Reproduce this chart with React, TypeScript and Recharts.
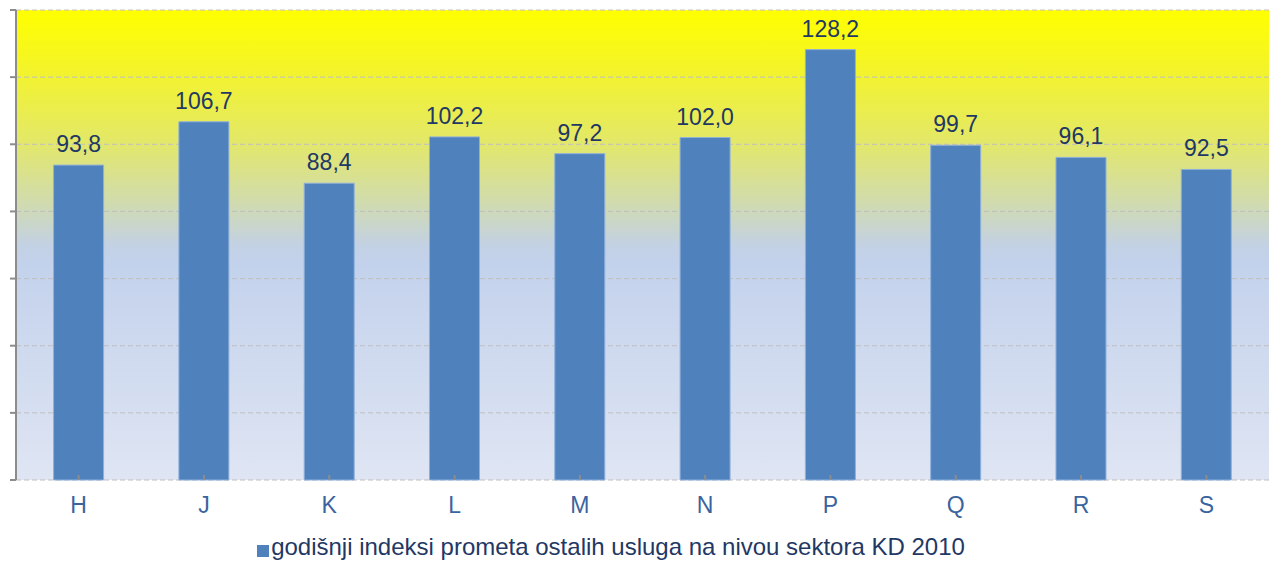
import React from "react";
import {
  BarChart,
  Bar,
  XAxis,
  YAxis,
  CartesianGrid,
  Legend,
  LabelList,
} from "recharts";

// sektori KD 2010
const categories = ["H", "J", "K", "L", "M", "N", "P", "Q", "R", "S"];
const indexValues = [93.8, 106.7, 88.4, 102.2, 97.2, 102.0, 128.2, 99.7, 96.1, 92.5];
const yTicks = [0, 20, 40, 60, 80, 100, 120, 140];
const boundaryTicks = [0, 1, 2, 3, 4, 5, 6, 7, 8, 9, 10];
const seriesName = "godišnji indeksi prometa ostalih usluga na nivou sektora KD 2010";

const data = categories.map((c, i) => ({ sector: c, value: indexValues[i] }));

const fmt = (v: any) => Number(v).toFixed(1).replace(".", ",");

export default function App() {
  return (
    <div style={{ position: "absolute", left: 0, top: 0, fontFamily: "'Liberation Sans', Arial, sans-serif" }}>
      <BarChart
        width={1270}
        height={562}
        data={data}
        margin={{ top: 10, right: 1, left: 0, bottom: 42 }}
        barCategoryGap="30%"
      >
        <defs>
          <linearGradient id="bg" x1="0" y1="0" x2="0" y2="1">
            <stop offset="0" stopColor="#FFFF00" />
            <stop offset="0.1" stopColor="#F6F620" />
            <stop offset="0.28" stopColor="#E3E868" />
            <stop offset="0.42" stopColor="#CFDAB4" />
            <stop offset="0.5" stopColor="#C3D1E4" />
            <stop offset="0.54" stopColor="#C3D2EC" />
            <stop offset="1" stopColor="#DFE5F3" />
          </linearGradient>
        </defs>
        <CartesianGrid
          vertical={false}
          stroke="#BFBFBF"
          strokeDasharray="5 3"
          fill="url(#bg)"
          fillOpacity={1}
        />
        <XAxis
          xAxisId="edges"
          type="number"
          domain={[0, 10]}
          ticks={boundaryTicks}
          height={0}
          tickSize={6}
          tickFormatter={() => ""}
          stroke="#8C8C8C"
          axisLine={{ stroke: "#8C8C8C", strokeWidth: 2 }}
          tickLine={{ stroke: "#8C8C8C", strokeWidth: 2 }}
          allowDataOverflow
        />
        <XAxis
          dataKey="sector"
          height={40}
          axisLine={false}
          tickSize={-5}
          tickMargin={22}
          fontSize={23}
          tickLine={{ stroke: "#8C8C8C", strokeWidth: 2 }}
          tick={{ fill: "#3A64A0", fontSize: 23 }}
          interval={0}
        />
        <YAxis
          width={16}
          domain={[0, 140]}
          ticks={yTicks}
          tickSize={6}
          tickFormatter={() => ""}
          axisLine={{ stroke: "#8C8C8C", strokeWidth: 2 }}
          tickLine={{ stroke: "#8C8C8C", strokeWidth: 2 }}
        />
        <Legend
          layout="horizontal"
          verticalAlign="middle"
          align="center"
          iconType="square"
          iconSize={12}
          wrapperStyle={{ top: 533, left: 0, width: 1232 }}
          formatter={(v: any) => (
            <span style={{ color: "#1F3864", fontSize: 24, marginLeft: -2 }}>{v}</span>
          )}
        />
        <Bar
          dataKey="value"
          name={seriesName}
          fill="#4F81BD"
          stroke="#8FB0DB"
          strokeWidth={1}
          isAnimationActive={false}
        >
          <LabelList
            dataKey="value"
            position="top"
            offset={13}
            formatter={fmt}
            style={{ fill: "#1F3864", fontSize: 23 }}
          />
        </Bar>
      </BarChart>
    </div>
  );
}
